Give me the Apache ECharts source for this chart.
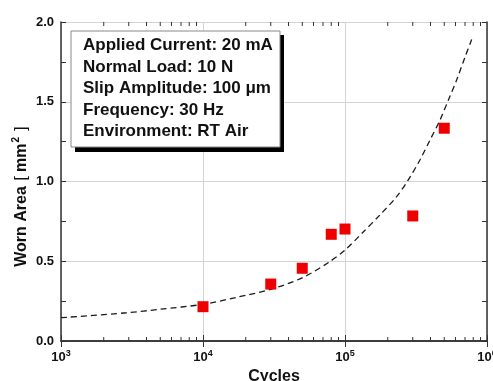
<!DOCTYPE html>
<html>
<head>
<meta charset="utf-8">
<script src="https://cdn.jsdelivr.net/npm/echarts@6/dist/echarts.min.js"></script>
<style>
  html, body { margin: 0; padding: 0; background: #fff; }
  #chart { width: 493px; height: 381px; }
</style>
</head>
<body>
<div id="chart"></div>
<script>
// measured points
const cycles = [1e4, 3e4, 5e4, 8e4, 1e5, 3e5, 5e5];
const wornArea = [0.215, 0.357, 0.456, 0.669, 0.702, 0.784, 1.334];

// dashed trend line
const fitCycles = [1000, 2900, 5000, 10000, 17300, 30000, 50800, 78000, 100000, 135000,
  176000, 231000, 279000, 337000, 397000, 467000, 534000, 611000, 700000, 780000];
const fitArea = [0.146, 0.177, 0.199, 0.23, 0.274, 0.324, 0.399, 0.497, 0.57, 0.685,
  0.79, 0.905, 1.01, 1.135, 1.26, 1.386, 1.51, 1.636, 1.78, 1.89];

// minor ticks of the log axis (2..9 in each decade)
const minorTicks = [2e3, 3e3, 4e3, 5e3, 6e3, 7e3, 8e3, 9e3,
  2e4, 3e4, 4e4, 5e4, 6e4, 7e4, 8e4, 9e4,
  2e5, 3e5, 4e5, 5e5, 6e5, 7e5, 8e5, 9e5];

const infoLines = [
  'Applied Current: 20 mA',
  'Normal Load: 10 N',
  'Slip Amplitude: 100 \u03bcm',
  'Frequency: 30 Hz',
  'Environment: RT Air'
];

const FONT = 'Liberation Sans, Arial, sans-serif';
const AXIS_COLOR = '#333';
const GRID_COLOR = '#d4d4d4';

const chart = echarts.init(document.getElementById('chart'));

const supRich = {
  b: { fontFamily: FONT, fontSize: 13, fontWeight: 'bold', color: '#111' },
  s: { fontFamily: FONT, fontSize: 9, fontWeight: 'bold', color: '#111', padding: [0, 0, 7, 0] }
};

chart.setOption({
  animation: false,
  grid: { left: 61, right: 6, top: 22, bottom: 40, outerBoundsMode: 'none', containLabel: false },
  xAxis: [
    {
      type: 'log', min: 1000, max: 1000000, logBase: 10,
      name: 'Cycles', nameLocation: 'middle', nameGap: 23,
      nameTextStyle: { fontFamily: FONT, fontSize: 16, fontWeight: 'bold', color: '#111' },
      axisLine: { lineStyle: { color: AXIS_COLOR, width: 1.5 } },
      axisTick: { inside: true, length: 6, lineStyle: { color: AXIS_COLOR } },
      axisLabel: {
        margin: 8,
        formatter: v => '{b|10}{s|' + Math.round(Math.log10(v)) + '}',
        rich: supRich
      },
      splitLine: { show: true, lineStyle: { color: GRID_COLOR, width: 1 } }
    },
    {
      type: 'log', min: 1000, max: 1000000, logBase: 10, position: 'top',
      axisLine: { lineStyle: { color: AXIS_COLOR, width: 1.5 } },
      axisTick: { inside: true, length: 6, lineStyle: { color: AXIS_COLOR } },
      axisLabel: { show: false },
      splitLine: { show: false }
    }
  ],
  yAxis: [
    {
      type: 'value', min: 0, max: 2, interval: 0.5,
      name: 'Worn Area {l|[}{b|mm}{s|2}{r|]}', nameLocation: 'middle', nameGap: 29,
      nameMoveOverlap: false,
      nameTextStyle: {
        fontFamily: FONT, fontSize: 16, fontWeight: 'bold', color: '#111',
        padding: [0, 30, 0, 0],
        rich: {
          b: { fontFamily: FONT, fontSize: 16, fontWeight: 'bold', color: '#111' },
          l: { fontFamily: FONT, fontSize: 17, fontWeight: 'normal', color: '#111', padding: [0, 4, 0, 1] },
          r: { fontFamily: FONT, fontSize: 17, fontWeight: 'normal', color: '#111', padding: [0, 0, 0, 5] },
          s: { fontFamily: FONT, fontSize: 10, fontWeight: 'bold', color: '#111', padding: [0, 1, 11, 1] }
        }
      },
      axisLine: { lineStyle: { color: AXIS_COLOR, width: 1.5 } },
      axisTick: { inside: true, length: 5, lineStyle: { color: AXIS_COLOR } },
      minorTick: { show: true, splitNumber: 2, length: 5, lineStyle: { color: AXIS_COLOR } },
      axisLabel: {
        margin: 7, fontFamily: FONT, fontSize: 13, fontWeight: 'bold', color: '#111',
        formatter: v => v.toFixed(1)
      },
      splitLine: { show: true, lineStyle: { color: GRID_COLOR, width: 1 } }
    },
    {
      type: 'value', min: 0, max: 2, interval: 0.5, position: 'right',
      axisLine: { lineStyle: { color: AXIS_COLOR, width: 1.5 } },
      axisTick: { inside: true, length: 5, lineStyle: { color: AXIS_COLOR } },
      minorTick: { show: true, splitNumber: 2, length: 5, lineStyle: { color: AXIS_COLOR } },
      axisLabel: { show: false },
      splitLine: { show: false }
    }
  ],
  graphic: [
    { type: 'rect', left: 75, top: 35, shape: { width: 209, height: 117 }, style: { fill: '#000' }, z: 10 },
    { type: 'rect', left: 70.5, top: 30.5, shape: { width: 209, height: 116 }, style: { fill: '#fff', stroke: '#888', lineWidth: 1 }, z: 11 },
    {
      type: 'text', left: 83, top: 35, z: 12,
      style: {
        text: infoLines.join('\n'),
        font: 'bold 17px ' + FONT,
        fill: '#111',
        lineHeight: 21.4
      }
    }
  ],
  series: [
    {
      type: 'custom',
      xAxisIndex: 0, yAxisIndex: 0,
      silent: true,
      clip: false,
      data: minorTicks.map(v => [v, 0]),
      renderItem: (params, api) => {
        const bot = api.coord([api.value(0), 0]);
        const top = api.coord([api.value(0), 2]);
        const st = { stroke: AXIS_COLOR, lineWidth: 1 };
        return {
          type: 'group',
          children: [
            { type: 'line', shape: { x1: bot[0], y1: bot[1], x2: bot[0], y2: bot[1] - 4 }, style: st },
            { type: 'line', shape: { x1: top[0], y1: top[1], x2: top[0], y2: top[1] + 4 }, style: st }
          ]
        };
      }
    },
    {
      type: 'line',
      data: fitCycles.map((c, i) => [c, fitArea[i]]),
      smooth: 0.3,
      showSymbol: false,
      lineStyle: { color: '#1a1a1a', width: 1.3, type: [6, 4] },
      z: 3
    },
    {
      type: 'scatter',
      data: cycles.map((c, i) => [c, wornArea[i]]),
      symbol: 'rect',
      symbolSize: 11,
      itemStyle: { color: '#ee0000', opacity: 1 },
      z: 4
    }
  ]
});
</script>
</body>
</html>
